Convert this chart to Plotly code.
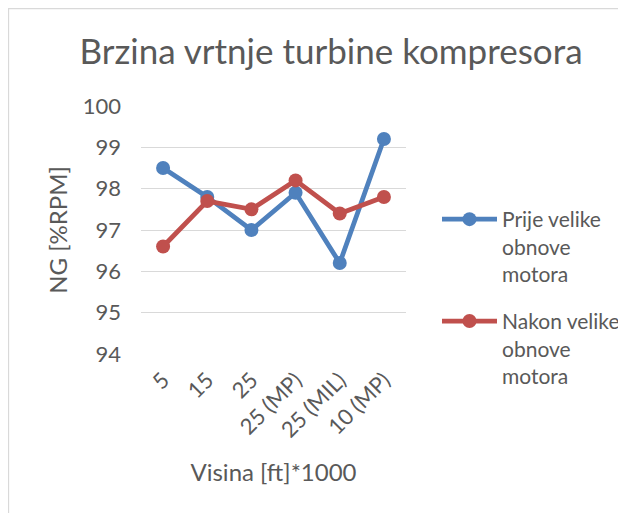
import plotly.graph_objects as go

categories = ["5", "15", "25", "25 (MP)", "25 (MIL)", "10 (MP)"]
prije = [98.5, 97.8, 97.0, 97.9, 96.2, 99.2]
nakon = [96.6, 97.7, 97.5, 98.2, 97.4, 97.8]
series_names = ["Prije velike<br>obnove<br>motora", "Nakon velike<br>obnove<br>motora"]
y_ticks = [94, 95, 96, 97, 98, 99, 100]

FONT = "Lato"
GREY = "#595959"

fig = go.Figure()
fig.add_trace(go.Scatter(x=categories, y=prije, name=series_names[0], mode="lines+markers",
                         legendgroup="a",
                         line=dict(color="#4F81BD", width=4.75),
                         marker=dict(color="#4F81BD", size=14)))
fig.add_trace(go.Scatter(x=categories, y=nakon, name=series_names[1], mode="lines+markers",
                         legendgroup="b",
                         line=dict(color="#C0504D", width=4.75),
                         marker=dict(color="#C0504D", size=14)))

# page body adds ~8px offset; figure coordinates = image coordinates - 8
W, H = 618, 505
L, R, T, B = 133, 220, 98, 159
pw, ph = W - L - R, H - T - B

def px_x(x):
    return (x - L) / pw

def px_y(y):
    return (H - B - y) / ph

fig.update_layout(
    width=W, height=H,
    margin=dict(l=L, r=R, t=T, b=B, autoexpand=False),
    paper_bgcolor="white", plot_bgcolor="white",
    font=dict(family=FONT, color=GREY, size=22),
    title=dict(text="Brzina vrtnje turbine kompresora", x=323 / W,
               xanchor="center", y=1 - 44 / H, yanchor="middle",
               font=dict(size=35, color=GREY, family=FONT)),
    showlegend=True,
    legend=dict(x=px_x(429), y=px_y(191), xanchor="left", yanchor="top",
                font=dict(size=21, color=GREY, family=FONT), valign="top",
                itemwidth=55, tracegroupgap=17, bgcolor="rgba(0,0,0,0)"),
    xaxis=dict(type="category", range=[-0.5, 5.5], tickangle=-45, showgrid=False,
               showline=False, ticks="", zeroline=False, ticklabelstandoff=8,
               tickfont=dict(size=22, color=GREY),
               title=dict(text="Visina [ft]*1000", font=dict(size=24, color=GREY), standoff=22)),
    yaxis=dict(range=[94, 100], tickvals=y_ticks, showgrid=True, gridcolor="#D9D9D9",
               gridwidth=1.3, zeroline=False, showline=False, ticks="",
               tickfont=dict(size=22, color=GREY), ticklabelstandoff=19,
               title=dict(text="NG [%RPM]", font=dict(size=24, color=GREY), standoff=8)),
    shapes=[dict(type="rect", xref="paper", yref="paper",
                 x0=px_x(0.5), x1=px_x(617.5), y0=px_y(520), y1=px_y(0.5),
                 line=dict(color="#D9D9D9", width=1.3), fillcolor="rgba(0,0,0,0)", layer="below")],
)

fig.write_html("out.html")
